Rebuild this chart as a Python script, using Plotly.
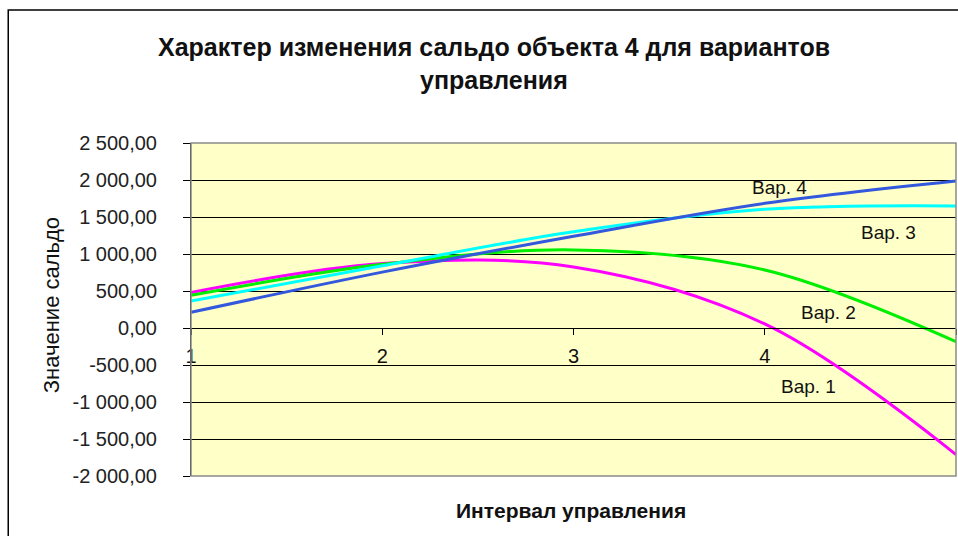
import plotly.graph_objects as go

# Interval index (x) and balance values for each control variant
intervals = [1, 2, 3, 4, 5]
var1 = [480, 870, 825, 55, -1710]
var2 = [442, 860, 1055, 784, -185]
var3 = [365, 840, 1300, 1604, 1650]
var4 = [212, 755, 1240, 1685, 1988]

series_names = ["Вар. 1", "Вар. 2", "Вар. 3", "Вар. 4"]
series_values = [var1, var2, var3, var4]
series_colors = ["#FF00FF", "#00EE00", "#00FFFF", "#3358DD"]

# Label anchor points (in data coordinates) for the series captions
label_x = [4.227, 4.332, 4.645, 4.076]
label_y = [-784, 216, 1284, 1892]

y_ticks = [2500, 2000, 1500, 1000, 500, 0, -500, -1000, -1500, -2000]


def fmt(v):
    s = f"{abs(v):,.2f}".replace(",", " ").replace(".", ",")
    return ("-" if v < 0 else "") + s


y_ticktext = [fmt(v) for v in y_ticks]

FONT = "Liberation Sans, Arial, sans-serif"

fig = go.Figure()
for name, vals, col in zip(series_names, series_values, series_colors):
    fig.add_trace(go.Scatter(
        x=intervals, y=vals, mode="lines", name=name,
        line=dict(color=col, width=3, shape="spline", smoothing=1.0),
    ))

for name, lx, ly in zip(series_names, label_x, label_y):
    fig.add_annotation(x=lx, y=ly, xref="x", yref="y", text=name,
                       showarrow=False, font=dict(family=FONT, size=19, color="#111"))

fig.update_layout(
    width=958, height=536,
    margin=dict(l=191, r=2, t=143, b=60),
    paper_bgcolor="white",
    plot_bgcolor="#FFFFC8",
    showlegend=False,
    font=dict(family=FONT, color="#111"),
    xaxis=dict(
        range=[1, 5], tickvals=intervals, ticktext=[str(i) for i in intervals],
        ticks="outside", ticklen=6, tickcolor="black", tickwidth=1,
        showline=True, linecolor="black", linewidth=1,
        anchor="free", position=2000 / 4500,
        showgrid=False, zeroline=False,
        tickfont=dict(family=FONT, size=20, color="#111"),
        ticklabelstandoff=4,
    ),
    yaxis=dict(
        range=[-2000, 2500], tickvals=y_ticks, ticktext=y_ticktext,
        ticks="outside", ticklen=7, tickcolor="black", tickwidth=1,
        showline=True, linecolor="black", linewidth=1,
        showgrid=True, gridcolor="black", gridwidth=1,
        zeroline=False,
        tickfont=dict(family=FONT, size=20, color="#222"),
        ticklabelstandoff=22,
    ),
)

# Plot-area border and outer chart frame
fig.add_shape(type="rect", xref="paper", yref="paper", x0=0, y0=0, x1=1, y1=1,
              line=dict(color="#8A8A8A", width=1.5), layer="above")
fig.add_shape(type="rect", xref="paper", yref="paper",
              x0=(8 - 191) / 766, y0=-0.3, x1=1.05, y1=1 + (143 - 10) / 333,
              line=dict(color="black", width=1.5), layer="above")

# Titles
fig.add_annotation(xref="paper", yref="paper", x=(494 - 191) / 766, y=1 + (143 - 47) / 333,
                   text="<b>Характер изменения сальдо объекта 4 для вариантов</b>",
                   showarrow=False, font=dict(family=FONT, size=25, color="#111"),
                   xanchor="center", yanchor="middle")
fig.add_annotation(xref="paper", yref="paper", x=(494 - 191) / 766, y=1 + (143 - 80) / 333,
                   text="<b>управления</b>",
                   showarrow=False, font=dict(family=FONT, size=25, color="#111"),
                   xanchor="center", yanchor="middle")
fig.add_annotation(xref="paper", yref="paper", x=(571 - 191) / 766, y=(476 - 510) / 333,
                   text="<b>Интервал управления</b>",
                   showarrow=False, font=dict(family=FONT, size=21, color="#111"),
                   xanchor="center", yanchor="middle")
fig.add_annotation(xref="paper", yref="paper", x=(51 - 191) / 766, y=(476 - 305) / 333,
                   text="Значение сальдо", textangle=-90,
                   showarrow=False, font=dict(family=FONT, size=22, color="#111"),
                   xanchor="center", yanchor="middle")

fig.write_html("out.html")
